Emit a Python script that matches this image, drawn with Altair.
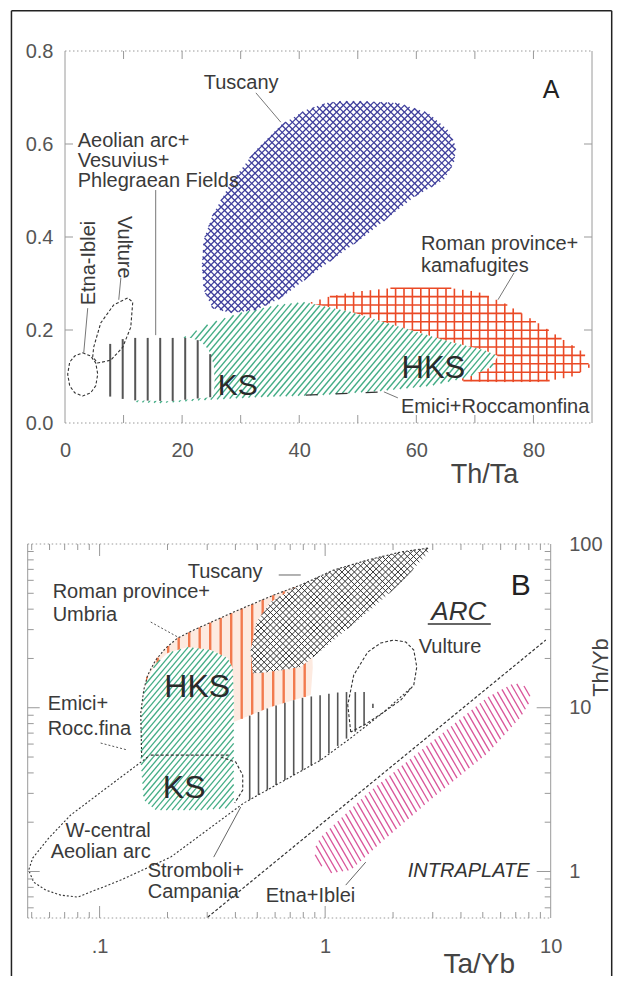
import altair as alt
import numpy as np
import pandas as pd

FONT = "Liberation Sans"
TXT = "#3a3a3a"

# ======================= panel A data (Th/Ta) =======================
A_X_DOMAIN = [0, 90]
A_Y_DOMAIN = [0.0, 0.8]
A_X_LABELS = [0, 20, 40, 60, 80]
A_Y_LABELS = [0.0, 0.2, 0.4, 0.6, 0.8]
A_X_TICKS = [10, 20, 30, 40, 50, 60, 70, 80]
A_Y_TICKS = [0.2, 0.4, 0.6]

A_TUSCANY_X = [47.1, 50.5, 56.9, 62.0, 65.4, 66.8, 66.4, 64.7, 59.6, 51.0, 42.5, 36.9,
               32.6, 28.3, 25.2, 23.7, 23.4, 23.7, 25.2, 28.3, 32.6, 36.9, 41.1, 44.6]
A_TUSCANY_Y = [0.692, 0.692, 0.688, 0.667, 0.630, 0.594, 0.559, 0.523, 0.486, 0.400, 0.323, 0.269,
               0.243, 0.237, 0.247, 0.286, 0.340, 0.394, 0.447, 0.516, 0.587, 0.641, 0.673, 0.688]
A_ROMAN_X = [40.57, 44.89, 49.33, 55.66, 65.91, 70.52, 74.97, 80.78, 85.22, 88.64, 89.66,
             86.42, 81.29, 71.55, 67.11, 60.79, 53.95, 47.17, 42.04]
A_ROMAN_Y = [0.254, 0.271, 0.282, 0.290, 0.290, 0.282, 0.258, 0.215, 0.178, 0.151, 0.120,
             0.099, 0.088, 0.088, 0.092, 0.110, 0.153, 0.200, 0.239]
A_KS_X = [11.74, 19.43, 24.90, 30.02, 36.35, 40.79, 48.82, 57.37, 65.91, 71.55, 73.94,
          72.75, 68.82, 62.49, 53.95, 43.70, 33.44, 23.19, 16.36]
A_KS_Y = [0.045, 0.178, 0.215, 0.237, 0.254, 0.260, 0.239, 0.206, 0.174, 0.157, 0.144,
          0.120, 0.099, 0.080, 0.069, 0.060, 0.056, 0.049, 0.043]
A_AEOLIAN_X = [6.10, 8.15, 10.37, 21.48, 23.19, 24.56, 25.41, 25.58, 25.24, 18.07, 11.23, 7.81, 6.10, 5.76]
A_AEOLIAN_Y = [0.163, 0.172, 0.183, 0.183, 0.176, 0.157, 0.125, 0.082, 0.056, 0.047, 0.049, 0.056, 0.071, 0.114]
A_ETNA_X = [3.02, 4.39, 5.25, 5.59, 5.25, 4.39, 3.02, 1.66, 0.80, 0.46, 0.80, 1.66, 3.02]
A_ETNA_Y = [0.151, 0.144, 0.129, 0.105, 0.080, 0.065, 0.058, 0.065, 0.080, 0.105, 0.131, 0.144, 0.151]
A_VULTURE_X = [4.90, 6.10, 8.32, 10.71, 11.57, 11.23, 9.86, 7.81, 5.59, 4.73, 4.90]
A_VULTURE_Y = [0.163, 0.215, 0.254, 0.269, 0.260, 0.206, 0.163, 0.135, 0.129, 0.142, 0.163]

# leader lines: x1, y1, x2, y2
A_LEADERS = [(32.6, 0.710, 36.85, 0.647),
             (15.49, 0.501, 15.49, 0.189),
             (3.88, 0.247, 3.20, 0.151),
             (9.54, 0.312, 9.18, 0.265),
             (76.7, 0.323, 73.94, 0.265),
             (56.85, 0.054, 54.46, 0.067)]
A_BOUNDARY = [(41.1, 0.060, 54.8, 0.067)]

A_LABEL_TEXT = ["Tuscany", "Aeolian arc+\nVesuvius+\nPhlegraean Fields", "Etna-Iblei", "Vulture",
                "Roman province+\nkamafugites", "Emici+Roccamonfina", "KS", "HKS", "A"]
A_LABEL_X = [23.70, 2.17, 4.05, 10.03, 60.78, 57.37, 29.51, 62.92, 83.0]
A_LABEL_Y = [0.718, 0.594, 0.344, 0.378, 0.372, 0.0215, 0.060, 0.097, 0.699]

# ======================= panel B data (Ta/Yb vs Th/Yb) =======================
B_X_DOMAIN = [0.048, 10]
B_Y_DOMAIN = [0.52, 100]
B_X_LABELS = [0.1, 1, 10]
B_Y_LABELS = [1, 10, 100]
B_X_MINOR = [0.05, 0.06, 0.07, 0.08, 0.09, 0.2, 0.3, 0.4, 0.5, 0.6, 0.7, 0.8, 0.9, 2, 3, 4, 5, 6, 7, 8, 9]
B_X_MAJOR = [0.1, 1]
B_Y_MINOR = [0.6, 0.7, 0.8, 0.9, 2, 3, 4, 5, 6, 7, 8, 9, 20, 30, 40, 50, 60, 70, 80, 90]
B_Y_MAJOR = [1, 10]

B_ROMAN_X = [0.1522, 0.1522, 0.1569, 0.1634, 0.1773, 0.1964, 0.2220, 0.2614, 0.3932, 0.5917,
             0.7793, 0.8634, 0.8812, 0.8634, 0.4355, 0.3932]
B_ROMAN_Y = [5.918, 9.283, 12.83, 15.84, 19.56, 23.16, 26.66, 29.83, 38.42, 48.81,
             56.19, 39.54, 17.48, 11.96, 8.651, 8.177]
B_TUSCANY_X = [0.4775, 0.4678, 0.4974, 0.5738, 0.7037, 0.7793, 1.0917, 1.5450, 2.1644, 2.8800,
               2.8510, 2.1644, 1.5450, 1.0917, 0.7793, 0.6355, 0.5181]
B_TUSCANY_Y = [16.29, 22.52, 33.38, 44.23, 52.36, 56.19, 69.38, 79.87, 89.35, 94.54,
               88.10, 57.80, 38.42, 25.92, 17.73, 16.99, 16.29]
B_STROMBOLI_X = [0.4355, 0.5738, 0.7793, 1.1726, 1.5137, 1.6423, 1.5608, 1.2988, 0.9561, 0.4355]
B_STROMBOLI_Y = [8.651, 10.10, 11.46, 12.47, 12.47, 10.39, 8.177, 6.812, 4.793, 2.617]
B_KS_X = [0.1569, 0.1634, 0.1773, 0.2004, 0.2458, 0.3110, 0.3699, 0.3892, 0.3932, 0.3932,
          0.3737, 0.2807, 0.1773, 0.1569, 0.1522, 0.1522]
B_KS_Y = [12.83, 15.19, 18.49, 21.59, 23.49, 22.52, 20.12, 17.48, 11.14, 2.731,
          2.439, 2.372, 2.372, 2.731, 4.793, 8.411]
B_ETNA_X = [0.8903, 0.9561, 1.5450, 3.0316, 5.2622, 6.8624, 7.9136, 8.1594, 7.3702, 5.2622,
            3.0316, 1.8193, 1.2988, 1.0588, 0.9273]
B_ETNA_Y = [1.351, 1.622, 3.013, 6.350, 11.63, 14.15, 13.38, 11.14, 8.773, 5.288,
            2.848, 1.555, 1.020, 0.9777, 1.125]
B_OUTER_X = [0.1537, 0.1522, 0.1569, 0.1634, 0.1773, 0.1964, 0.2220, 0.2614, 0.3932, 0.5917,
             0.7793, 1.0917, 1.5450, 2.1644, 2.8800]
B_OUTER_Y = [4.999, 9.283, 12.83, 15.84, 19.56, 23.16, 26.66, 29.83, 38.42, 48.81,
             56.19, 69.38, 79.87, 89.35, 94.54]
B_WCENTRAL_X = [0.1634, 0.1043, 0.0744, 0.0595, 0.0505, 0.04848, 0.0510, 0.0577, 0.0672, 0.0800,
                0.1240, 0.2066, 0.4355, 0.9561, 1.2988, 1.8193, 2.3968]
B_WCENTRAL_Y = [4.999, 3.143, 2.211, 1.600, 1.207, 1.020, 0.8612, 0.7699, 0.7175, 0.6976,
                0.8860, 1.224, 2.617, 4.793, 6.531, 9.414, 13.19]
B_VULTURE_X = [1.2988, 1.2597, 1.3392, 1.5450, 1.7643, 2.0150, 2.2776, 2.4714, 2.5482, 2.4714,
               2.1644, 1.8193, 1.5137, 1.2988]
B_VULTURE_Y = [7.106, 10.39, 15.84, 21.89, 24.85, 25.92, 25.20, 22.52, 17.73, 13.76,
               11.14, 9.414, 7.951, 7.106]
B_SMALL_X = [0.3443, 0.4013, 0.4311, 0.4311, 0.3972]
B_SMALL_Y = [4.999, 4.659, 3.880, 3.143, 2.617]

B_LEADERS = [(0.6226, 64.67, 0.7793, 64.67),
             (0.3206, 1.224, 0.4223, 2.474),
             (1.234, 0.8258, 1.5137, 1.141),
             (2.851, 32.45, 5.425, 32.45)]
B_DOTTED = [(0.1685, 33.38, 0.2220, 27.04),
            (0.1011, 6.087, 0.1332, 5.515)]
B_DASHED = [(0.1685, 5.142, 0.3737, 5.142),
            (0.3015, 0.526, 9.513, 25.92)]

B_LABEL_TEXT = ["Tuscany", "Roman province+\nUmbria", "Emici+\nRocc.fina", "W-central\nAeolian arc",
                "Stromboli+\nCampania", "Etna+Iblei", "Vulture", "ARC", "B", "INTRAPLATE", "HKS", "KS"]
B_LABEL_X = [0.2458, 0.06194, 0.05885, 0.1685, 0.1634, 0.5452, 2.6007, 3.9128, 7.3702, 2.3237,
             0.2709, 0.2372]
B_LABEL_Y = [61.98, 46.79, 9.683, 1.622, 0.9243, 0.6503, 21.59, 34.34, 48.81, 0.9243, 11.63, 2.809]

# ======================= layout (pixels) =======================
WA, HA = 527, 372
WB, HB = 523, 374
A_LEFT, A_TOP = 64.3, 51.0
B_LEFT, B_TOP = 27.0, 544.0
FR_L, FR_T, FR_R, FR_B = 10.75, 10.75, 611.0, 976.0
BX0 = B_LEFT - A_LEFT          # panel B plot starts left of the shared column origin
GAP = B_TOP - A_TOP - HA       # vertical space between the two plot areas


def fwd_A(x, y):
    x = np.asarray(x, float); y = np.asarray(y, float)
    return ((x - A_X_DOMAIN[0]) / (A_X_DOMAIN[1] - A_X_DOMAIN[0]) * WA,
            (1 - (y - A_Y_DOMAIN[0]) / (A_Y_DOMAIN[1] - A_Y_DOMAIN[0])) * HA)


def inv_A(px, py):
    return (A_X_DOMAIN[0] + px / WA * (A_X_DOMAIN[1] - A_X_DOMAIN[0]),
            A_Y_DOMAIN[0] + (1 - py / HA) * (A_Y_DOMAIN[1] - A_Y_DOMAIN[0]))


LX0, LX1 = np.log10(B_X_DOMAIN[0]), np.log10(B_X_DOMAIN[1])
LY0, LY1 = np.log10(B_Y_DOMAIN[0]), np.log10(B_Y_DOMAIN[1])


def fwd_B(x, y):
    x = np.asarray(x, float); y = np.asarray(y, float)
    return ((np.log10(x) - LX0) / (LX1 - LX0) * WB,
            (1 - (np.log10(y) - LY0) / (LY1 - LY0)) * HB)


def inv_B(px, py):
    return (10 ** (LX0 + px / WB * (LX1 - LX0)),
            10 ** (LY0 + (1 - py / HB) * (LY1 - LY0)))


def hatch(xs, ys, fwd, inv, angle, spacing, phase=0.0):
    px, py = fwd(xs, ys)
    P = np.column_stack([px, py])
    th = np.radians(angle)
    d = np.array([np.cos(th), -np.sin(th)])
    n = np.array([np.sin(th), np.cos(th)])
    proj = P @ n
    k0 = int(np.ceil((proj.min() - phase) / spacing))
    k1 = int(np.floor((proj.max() - phase) / spacing))
    rows = []
    m = len(P)
    for k in range(k0, k1 + 1):
        c = phase + k * spacing
        ts = []
        for i in range(m):
            a, b = P[i], P[(i + 1) % m]
            pa, pb = a @ n - c, b @ n - c
            if (pa > 0) != (pb > 0):
                t = pa / (pa - pb)
                ts.append((a + t * (b - a)) @ d)
        ts.sort()
        for j in range(0, len(ts) - 1, 2):
            p1 = c * n + ts[j] * d
            p2 = c * n + ts[j + 1] * d
            x1, y1 = inv(p1[0], p1[1])
            x2, y2 = inv(p2[0], p2[1])
            rows.append(dict(x=x1, y=y1, x2=x2, y2=y2))
    return pd.DataFrame(rows)


def poly_df(xs, ys, close=True):
    xs = list(xs); ys = list(ys)
    if close:
        xs = xs + [xs[0]]; ys = ys + [ys[0]]
    return pd.DataFrame({"x": xs, "y": ys, "i": list(range(len(xs)))})


def seg_df(segs):
    return pd.DataFrame(segs, columns=["x", "y", "x2", "y2"])


# ---------------- encodings ----------------
AX_A = alt.Axis(values=A_X_LABELS, domain=False, ticks=False, grid=False, labelFont=FONT,
                labelFontSize=20, labelColor="#555", labelPadding=17, labelFlush=False,
                title="Th/Ta", titleFont=FONT, titleFontSize=27, titleFontWeight="normal",
                titleColor="#444", titleX=419, titleY=59, titleAlign="center",
                titleBaseline="alphabetic")
AY_A = alt.Axis(values=A_Y_LABELS, format=".1f", domain=False, ticks=False, grid=False,
                labelFont=FONT, labelFontSize=20, labelColor="#555", labelPadding=12, title=None)
AX_B = alt.Axis(values=B_X_LABELS, format="~g", labelExpr="replace(datum.label, '0.', '.')",
                domain=False, ticks=False, grid=False, labelFont=FONT, labelFontSize=20,
                labelColor="#555", labelPadding=18, labelFlush=False,
                title="Ta/Yb", titleFont=FONT, titleFontSize=28, titleFontWeight="normal",
                titleColor="#444", titleX=478 - A_LEFT, titleY=54, titleAlign="center",
                titleBaseline="alphabetic")
AY_B = alt.Axis(values=B_Y_LABELS, format="~g", orient="right", domain=False, ticks=False,
                grid=False, labelFont=FONT, labelFontSize=20, labelColor="#555",
                labelPadding=18, labelAlign="left", title="Th/Yb", titleFont=FONT,
                titleFontSize=22, titleFontWeight="normal", titleColor="#444",
                titleAngle=270, titleX=50, titleY=123, titleAlign="center",
                titleBaseline="middle")

SX_A = alt.Scale(domain=A_X_DOMAIN, nice=False, zero=False)
SY_A = alt.Scale(domain=A_Y_DOMAIN, nice=False, zero=False)
SX_B = alt.Scale(type="log", domain=B_X_DOMAIN, nice=False, range=[BX0, BX0 + WB])
SY_B = alt.Scale(type="log", domain=B_Y_DOMAIN, nice=False)


def XA(f): return alt.X(f, type="quantitative", scale=SX_A, axis=AX_A)
def YA(f): return alt.Y(f, type="quantitative", scale=SY_A, axis=AY_A)
def XB(f): return alt.X(f, type="quantitative", scale=SX_B, axis=AX_B)
def YB(f): return alt.Y(f, type="quantitative", scale=SY_B, axis=AY_B)


def field(xs, ys, X, Y, fwd, inv, hatches, fill="white"):
    out = [alt.Chart(poly_df(xs, ys)).mark_line(fill=fill, strokeOpacity=0).encode(
        x=X("x"), y=Y("y"), order=alt.Order("i:Q"))]
    for ang, sp, col, w, ph in hatches:
        df = hatch(xs, ys, fwd, inv, ang, sp, ph)
        out.append(alt.Chart(df).mark_rule(color=col, strokeWidth=w).encode(
            x=X("x"), y=Y("y"), x2=alt.X2("x2"), y2=alt.Y2("y2")))
    return out


def outline(xs, ys, X, Y, dash, color="#333", width=1.1):
    return alt.Chart(poly_df(xs, ys, close=False)).mark_line(
        color=color, strokeWidth=width, strokeDash=dash).encode(
        x=X("x"), y=Y("y"), order=alt.Order("i:Q"))


def segs(lst, X, Y, color="#555", width=1.0, dash=None):
    kw = dict(color=color, strokeWidth=width)
    if dash:
        kw["strokeDash"] = dash
    return alt.Chart(seg_df(lst)).mark_rule(**kw).encode(
        x=X("x"), y=Y("y"), x2=alt.X2("x2"), y2=alt.Y2("y2"))


def text(t, x, y, X, Y, size=20, align="left", baseline="alphabetic", angle=0,
         style="normal", color=TXT, lh=20):
    return alt.Chart(pd.DataFrame({"x": [x], "y": [y], "t": [t]})).mark_text(
        font=FONT, fontSize=size, align=align, baseline=baseline, angle=angle,
        fontStyle=style, color=color, lineBreak="\n", lineHeight=lh).encode(
        x=X("x"), y=Y("y"), text="t:N")


def vrule(x, y1, y2, color, width=1.0, dash=None):
    kw = dict(color=color, strokeWidth=width)
    if dash:
        kw["strokeDash"] = dash
    return alt.Chart(pd.DataFrame({"a": [0]})).mark_rule(**kw).encode(
        x=alt.value(x), y=alt.value(y1), y2=alt.value(y2))


def hrule(y, x1, x2, color, width=1.0, dash=None):
    kw = dict(color=color, strokeWidth=width)
    if dash:
        kw["strokeDash"] = dash
    return alt.Chart(pd.DataFrame({"a": [0]})).mark_rule(**kw).encode(
        y=alt.value(y), x=alt.value(x1), x2=alt.value(x2))


def xticks(vals, X, y1, y2, color="#999"):
    return alt.Chart(pd.DataFrame({"t": vals})).mark_rule(color=color, strokeWidth=1).encode(
        x=X("t"), y=alt.value(y1), y2=alt.value(y2))


def yticks(vals, Y, x1, x2, color="#999"):
    return alt.Chart(pd.DataFrame({"t": vals})).mark_rule(color=color, strokeWidth=1).encode(
        y=Y("t"), x=alt.value(x1), x2=alt.value(x2))


FRAME = "#222"
AXC = "#9a9a9a"
DOT = [1.5, 2.5]

# ======================= panel A =======================
la = []
la += field(A_ROMAN_X, A_ROMAN_Y, XA, YA, fwd_A, inv_A,
            [(0, 8.4, "#ea4a26", 1.6, 2.0), (90, 8.4, "#ea4a26", 1.6, 3.0)])
la += field(A_KS_X, A_KS_Y, XA, YA, fwd_A, inv_A, [(50, 4.6, "#44ad86", 1.4, 0.0)])
la += field(A_AEOLIAN_X, A_AEOLIAN_Y, XA, YA, fwd_A, inv_A, [(90, 12.5, "#555555", 2.0, 7.7)])
la += field(A_TUSCANY_X, A_TUSCANY_Y, XA, YA, fwd_A, inv_A,
            [(45, 4.8, "#3f3f9c", 1.3, 0.0), (135, 4.8, "#3f3f9c", 1.3, 0.0)])
la.append(outline(A_ETNA_X, A_ETNA_Y, XA, YA, [3, 2]))
la.append(outline(A_VULTURE_X, A_VULTURE_Y, XA, YA, [3, 2]))
la.append(segs(A_LEADERS, XA, YA, color="#777", width=1.0))
la.append(segs(A_BOUNDARY, XA, YA, color="#333", width=1.2, dash=[12, 18]))
la += [vrule(0, 0, HA, AXC), vrule(WA, 0, HA, AXC),
       hrule(0, 0, WA, AXC, dash=DOT), hrule(HA, 0, WA, AXC, dash=DOT),
       xticks(A_X_TICKS, XA, 0, 8), xticks(A_X_TICKS, XA, HA, HA - 8),
       yticks(A_Y_TICKS, YA, 0, 8), yticks(A_Y_TICKS, YA, WA, WA - 8)]
# outer figure frame (spans both panels; layout is flush so it does not move panel B)
la += [hrule(FR_T - A_TOP, FR_L - A_LEFT, FR_R - A_LEFT, FRAME, 1.5),
       vrule(FR_L - A_LEFT, FR_T - A_TOP, FR_B - A_TOP, FRAME, 1.5),
       vrule(FR_R - A_LEFT, FR_T - A_TOP, FR_B - A_TOP, FRAME, 1.5)]
A_STYLE = {"Etna-Iblei": dict(angle=270, align="center", baseline="middle"),
           "Vulture": dict(angle=90, align="center", baseline="middle"),
           "Roman province+\nkamafugites": dict(lh=22),
           "KS": dict(size=30, align="center", color="#2a2a2a"),
           "HKS": dict(size=31, align="center", color="#2a2a2a"),
           "A": dict(size=25, align="center", color="#222")}
for t, x, y in zip(A_LABEL_TEXT, A_LABEL_X, A_LABEL_Y):
    la.append(text(t, x, y, XA, YA, **A_STYLE.get(t, {})))
panelA = alt.layer(*la).properties(width=WA, height=HA)

# ======================= panel B =======================
lb = []
lb += field(B_ROMAN_X, B_ROMAN_Y, XB, YB, fwd_B, inv_B, [(90, 10.5, "#f27a4e", 2.4, 4.0)],
            fill="#fdeae0")
lb += field(B_TUSCANY_X, B_TUSCANY_Y, XB, YB, fwd_B, inv_B,
            [(45, 4.4, "#333333", 1.0, 0.0), (135, 4.4, "#333333", 1.0, 0.0)])
lb += field(B_STROMBOLI_X, B_STROMBOLI_Y, XB, YB, fwd_B, inv_B, [(90, 8.8, "#555555", 1.6, 2.0)])
lb += field(B_KS_X, B_KS_Y, XB, YB, fwd_B, inv_B, [(50, 4.4, "#44ad86", 1.3, 0.0)])
lb += field(B_ETNA_X, B_ETNA_Y, XB, YB, fwd_B, inv_B, [(120, 5.2, "#d9559a", 1.3, 0.0)])
lb.append(outline(B_OUTER_X, B_OUTER_Y, XB, YB, [2, 2]))
lb.append(outline(B_WCENTRAL_X, B_WCENTRAL_Y, XB, YB, [2, 2]))
lb.append(outline(B_VULTURE_X, B_VULTURE_Y, XB, YB, [3, 2]))
lb.append(outline(B_SMALL_X, B_SMALL_Y, XB, YB, [3, 2]))
lb.append(segs(B_LEADERS[:3], XB, YB, color="#666", width=1.0))
lb.append(segs(B_LEADERS[3:], XB, YB, color="#333", width=1.5))
lb.append(segs(B_DOTTED, XB, YB, color="#555", width=1.0, dash=[2, 2]))
lb.append(segs(B_DASHED, XB, YB, color="#333", width=1.2, dash=[3, 2]))
lb += [vrule(BX0, 0, HB, AXC), vrule(BX0 + WB, 0, HB, AXC),
       hrule(0, BX0, BX0 + WB, AXC, dash=DOT), hrule(HB, BX0, BX0 + WB, AXC, dash=DOT),
       xticks(B_X_MINOR, XB, 0, 6), xticks(B_X_MAJOR, XB, 0, 12),
       xticks(B_X_MINOR, XB, HB, HB - 6), xticks(B_X_MAJOR, XB, HB, HB - 12),
       yticks(B_Y_MINOR, YB, BX0, BX0 + 6), yticks(B_Y_MAJOR, YB, BX0, BX0 + 12),
       yticks(B_Y_MINOR, YB, BX0 + WB, BX0 + WB - 6), yticks(B_Y_MAJOR, YB, BX0 + WB, BX0 + WB - 14)]
B_STYLE = {"Roman province+\nUmbria": dict(lh=23),
           "Emici+\nRocc.fina": dict(lh=25),
           "W-central\nAeolian arc": dict(align="right", lh=21),
           "Stromboli+\nCampania": dict(lh=21),
           "ARC": dict(size=26, align="center", style="italic", color="#333"),
           "B": dict(size=30, align="center", color="#222"),
           "INTRAPLATE": dict(style="italic", color="#333"),
           "HKS": dict(size=32, align="center", color="#2a2a2a"),
           "KS": dict(size=32, align="center", color="#2a2a2a")}
for t, x, y in zip(B_LABEL_TEXT, B_LABEL_X, B_LABEL_Y):
    lb.append(text(t, x, y, XB, YB, **B_STYLE.get(t, {})))
panelB = alt.layer(*lb).properties(width=BX0 + WB, height=HB)

chart = alt.vconcat(panelA, panelB, spacing=GAP, bounds="flush").properties(
    padding={"left": 2, "top": 2, "right": 0, "bottom": 0}
).configure(font=FONT).configure_view(stroke="transparent", strokeWidth=0)

chart.save("out.html", embed_options={"renderer": "svg", "actions": False})
